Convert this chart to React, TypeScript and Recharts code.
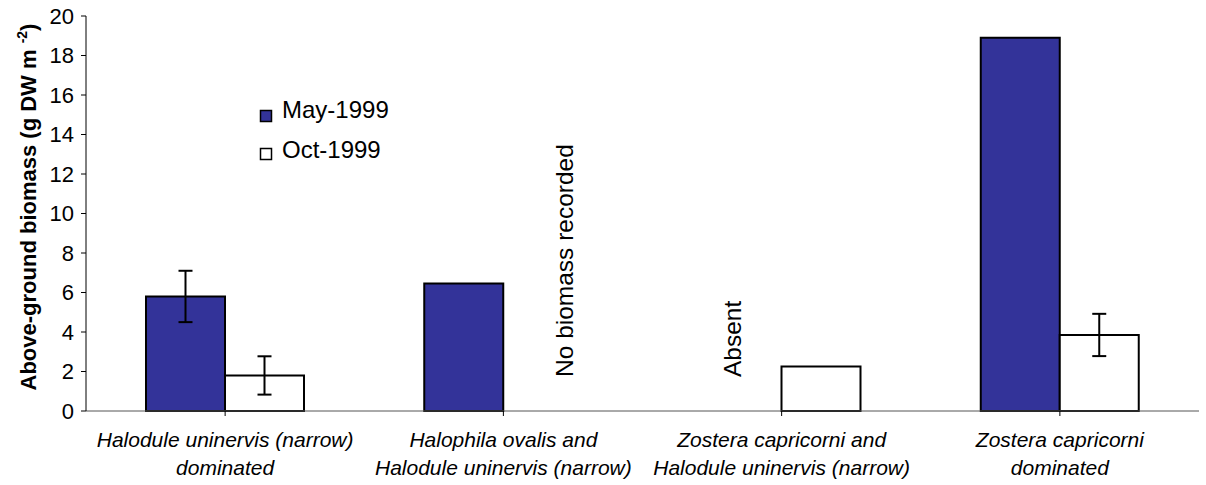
import { BarChart, Bar, XAxis, YAxis, ErrorBar, Customized } from 'recharts';

// Vegetation types (two-line labels)
const categories = [
  ['Halodule uninervis (narrow)', 'dominated'],
  ['Halophila ovalis and', 'Halodule uninervis (narrow)'],
  ['Zostera capricorni and', 'Halodule uninervis (narrow)'],
  ['Zostera capricorni', 'dominated'],
];

// Above-ground biomass, g DW m-2 (null = no bar)
const may1999 = [5.8, 6.45, null, 18.9];
const oct1999 = [1.8, null, 2.25, 3.85];

// Error bar half-ranges
const mayErr = [1.3, null, null, null];
const octErr = [0.97, null, null, 1.07];

const yTicks = [0, 2, 4, 6, 8, 10, 12, 14, 16, 18, 20];

const data = categories.map((c, i) => ({
  name: c.join('\n'),
  may: may1999[i],
  oct: oct1999[i],
  mayErr: mayErr[i],
  octErr: octErr[i],
}));

const FONT = '"Liberation Sans", Arial, sans-serif';
const NAVY = '#333399';

const CategoryTick = (props: any) => {
  const { x, y, payload } = props;
  const lines = String(payload.value).split('\n');
  return (
    <g transform={`translate(${x},${y})`}>
      {lines.map((l, i) => (
        <text key={i} x={0} y={29 + i * 28} textAnchor="middle" fontFamily={FONT} fontSize={21} fontStyle="italic" fill="#000">
          {l}
        </text>
      ))}
    </g>
  );
};

// legend + free text labels drawn straight into the svg
const Annotations = () => (
  <g fontFamily={FONT} fill="#000">
    <rect x={260.5} y={110.5} width={11} height={11} fill={NAVY} stroke="#000" strokeWidth={1.5} />
    <text x={282} y={118} fontSize={24}>May-1999</text>
    <rect x={260.5} y={148.5} width={11} height={11} fill="#fff" stroke="#000" strokeWidth={1.5} />
    <text x={282} y={158} fontSize={24}>Oct-1999</text>

    <text transform="translate(573,377) rotate(-90)" fontSize={24.5}>No biomass recorded</text>
    <text transform="translate(741,377) rotate(-90)" fontSize={24.5}>Absent</text>
    <text transform="translate(36,207) rotate(-90)" fontSize={22} fontWeight="bold" textAnchor="middle">
      Above-ground biomass (g DW m <tspan fontSize={14} dy={-9}>-2</tspan><tspan dy={9}>)</tspan>
    </text>
  </g>
);

export default function App() {
  return (
    <div style={{ position: 'absolute', left: 0, top: 0, background: '#fff' }}>
      <BarChart
        width={1206}
        height={485}
        data={data}
        margin={{ top: 16, right: 7, bottom: 0, left: 0 }}
        barCategoryGap={60}
        barGap={0}
      >
        <XAxis
          dataKey="name"
          height={74}
          stroke="#555"
          tickSize={5}
          tickLine={{ stroke: '#000' }}
          tick={<CategoryTick />}
          interval={0}
        />
        <YAxis
          width={86}
          domain={[0, 20]}
          ticks={yTicks}
          stroke="#000"
          tickSize={5}
          tickMargin={7}
          tick={{ fill: '#000', fontSize: 22, fontFamily: FONT }}
        />
        <Bar dataKey="may" fill={NAVY} stroke="#000" strokeWidth={2} isAnimationActive={false}>
          <ErrorBar dataKey="mayErr" width={7} stroke="#000" strokeWidth={2} />
        </Bar>
        <Bar dataKey="oct" fill="#fff" stroke="#000" strokeWidth={2} isAnimationActive={false}>
          <ErrorBar dataKey="octErr" width={7} stroke="#000" strokeWidth={2} />
        </Bar>
        <Customized component={Annotations} />
      </BarChart>
    </div>
  );
}
